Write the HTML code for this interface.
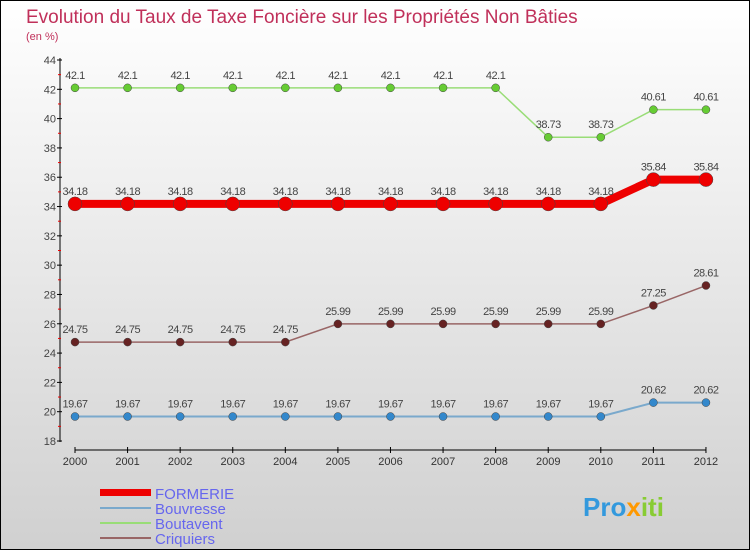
<!DOCTYPE html>
<html><head><meta charset="utf-8"><style>
body{margin:0}
svg{display:block;font-family:"Liberation Sans",sans-serif}
</style></head><body>
<svg id="c" width="750" height="550" xmlns="http://www.w3.org/2000/svg">
<defs><linearGradient id="bg" x1="0" y1="0" x2="0" y2="1"><stop offset="0" stop-color="#ffffff"/><stop offset="1" stop-color="#d0d0d0"/></linearGradient></defs>
<rect x="0.5" y="0.5" width="749" height="549" fill="url(#bg)" stroke="#000"/>
<text x="26" y="23" font-size="19" fill="#c0305a">Evolution du Taux de Taxe Foncière sur les Propriétés Non Bâties</text>
<text x="26" y="40" font-size="11" fill="#c0305a">(en %)</text>
<g id="axes"></g><g id="series"></g>
<g>
<rect x="100" y="489" width="51" height="7" fill="#ee0000"/>
<text x="155" y="499" font-size="15" fill="#6666ee">FORMERIE</text>
<line x1="100" y1="508" x2="151" y2="508" stroke="#7aa9cc" stroke-width="2"/>
<text x="155" y="514" font-size="15" fill="#6666ee">Bouvresse</text>
<line x1="100" y1="523" x2="151" y2="523" stroke="#99dd77" stroke-width="2"/>
<text x="155" y="529" font-size="15" fill="#6666ee">Boutavent</text>
<line x1="100" y1="538" x2="151" y2="538" stroke="#996666" stroke-width="2"/>
<text x="155" y="544" font-size="15" fill="#6666ee">Criquiers</text>
</g>
<g><text x="583" y="516" font-size="26" font-weight="bold" fill="#3399dd">Pro<tspan fill="#ff9900">x</tspan><tspan fill="#88cc33">iti</tspan></text></g>
</svg>
<script>
const years=[2000,2001,2002,2003,2004,2005,2006,2007,2008,2009,2010,2011,2012];
const yTicks=[18,20,22,24,26,28,30,32,34,36,38,40,42,44];
const formerie=[34.18,34.18,34.18,34.18,34.18,34.18,34.18,34.18,34.18,34.18,34.18,35.84,35.84];
const bouvresse=[19.67,19.67,19.67,19.67,19.67,19.67,19.67,19.67,19.67,19.67,19.67,20.62,20.62];
const boutavent=[42.1,42.1,42.1,42.1,42.1,42.1,42.1,42.1,42.1,38.73,38.73,40.61,40.61];
const criquiers=[24.75,24.75,24.75,24.75,24.75,25.99,25.99,25.99,25.99,25.99,25.99,27.25,28.61];
const NS="http://www.w3.org/2000/svg";
const X=i=>75+i*52.58, Y=v=>441-(v-18)*(381/26);
function mk(t,a,p){const e=document.createElementNS(NS,t);for(const k in a)e.setAttribute(k,a[k]);p.appendChild(e);return e;}
const ax=document.getElementById('axes'), se=document.getElementById('series');
let l=mk('line',{x1:60,y1:58,x2:60,y2:442,stroke:'#000'},ax);


yTicks.forEach(v=>{
 mk('line',{x1:57,y1:Y(v),x2:62,y2:Y(v),stroke:'#000'},ax);
 if(v<44){mk('line',{x1:58,y1:Y(v+1),x2:61,y2:Y(v+1),stroke:'#e00'},ax);}
 const t=mk('text',{x:56,y:Y(v)+4,'font-size':11,fill:'#444','text-anchor':'end'},ax);t.textContent=v;
 
 
});
l=mk('line',{x1:75,y1:450,x2:706,y2:450,stroke:'#000'},ax);


years.forEach((y,i)=>{
 mk('line',{x1:X(i),y1:447,x2:X(i),y2:453,stroke:'#000'},ax);
 const t=mk('text',{x:X(i),y:465,'font-size':11,fill:'#333','text-anchor':'middle'},ax);t.textContent=y;
 
 
});
function series(d,name,col,w,r,dot){
 const g=mk('g',{},se);
 
 
 const p=mk('polyline',{points:d.map((v,i)=>X(i)+','+Y(v)).join(' '),fill:'none',stroke:col,'stroke-width':w},g);
 
 
 d.forEach((v,i)=>{
  const c=mk('circle',{cx:X(i),cy:Y(v),r:r,fill:dot,stroke:'#444','stroke-width':0.5},g);
  
  
  const t=mk('text',{x:X(i),y:Y(v)-9,'font-size':11,fill:'#444','text-anchor':'middle','letter-spacing':'-0.5'},g);t.textContent=v;
  
  
 });
}
series(boutavent,'boutavent','#99dd77',1.5,4,'#66cc33');
series(criquiers,'criquiers','#996666',1.5,4,'#662222');
series(bouvresse,'bouvresse','#7aa9cc',2,4,'#3388cc');
series(formerie,'formerie','#ee0000',8,7,'#ee0000');
</script>
</body></html>
